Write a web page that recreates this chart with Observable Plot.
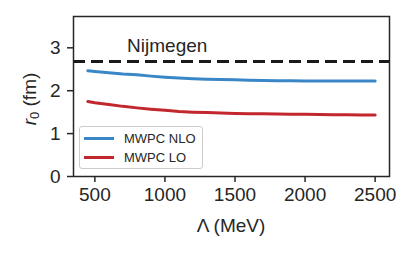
<!DOCTYPE html>
<html><head><meta charset="utf-8">
<script src="https://cdn.jsdelivr.net/npm/d3@7"></script>
<script src="https://cdn.jsdelivr.net/npm/@observablehq/plot@0.6"></script>
<style>
html,body{margin:0;padding:0;background:#fff;}
#wrap{position:relative;width:415px;height:256px;font-family:"Liberation Sans",Arial,sans-serif;color:#262626;overflow:hidden;}
#wrap svg{display:block;}
.lab{position:absolute;white-space:nowrap;font-size:19px;line-height:1;}
.lab sub{font-size:13px;vertical-align:-3px;line-height:0;}
#legend{position:absolute;left:79px;top:126px;width:122px;height:41px;border:1px solid #cccccc;border-radius:3px;background:rgba(255,255,255,0.8);font-size:13px;}
.item{position:absolute;left:4px;height:14px;display:flex;align-items:center;}
.item span.sw{display:inline-block;width:30px;height:3px;margin-right:10px;}
</style></head><body><div id="wrap"></div>
<script>
// data
const lambda = [450,500,600,700,800,900,1000,1100,1200,1300,1400,1500,1600,1700,1800,1900,2000,2100,2200,2300,2400,2500];
const r0NLO  = [2.465,2.45,2.42,2.39,2.37,2.34,2.315,2.295,2.28,2.27,2.26,2.255,2.245,2.24,2.235,2.23,2.228,2.226,2.225,2.225,2.225,2.225];
const r0LO   = [1.75,1.72,1.68,1.635,1.60,1.57,1.545,1.515,1.50,1.49,1.48,1.47,1.465,1.46,1.455,1.45,1.45,1.445,1.44,1.44,1.435,1.435];
const nijmegen = 2.68;
const nijmegenLabel = [{x: 730, y: 3.04, text: "Nijmegen"}];
const seriesNames = ["MWPC NLO", "MWPC LO"];
const seriesColors = ["#3a87c7", "#c1272d"];
const xTicks = [500, 1000, 1500, 2000, 2500];
const yTicks = [0, 1, 2, 3];
const xTitle = "Λ (MeV)";

const rows = [];
lambda.forEach((l, i) => {
  rows.push({lambda: l, r0: r0NLO[i], series: seriesNames[0]});
  rows.push({lambda: l, r0: r0LO[i], series: seriesNames[1]});
});

const plot = Plot.plot({
  width: 415, height: 256,
  marginLeft: 73, marginRight: 26, marginTop: 16, marginBottom: 80,
  style: {fontFamily: "Liberation Sans, Arial, sans-serif", fontSize: "19px", color: "#262626", background: "white", overflow: "visible"},
  x: {domain: [347.5, 2602.5]},
  y: {domain: [0, 3.73]},
  color: {domain: seriesNames, range: seriesColors},
  marks: [
    Plot.ruleY([nijmegen], {stroke: "#1a1a1a", strokeWidth: 3, strokeDasharray: "12,6"}),
    Plot.line(rows, {x: "lambda", y: "r0", z: "series", stroke: "series", strokeWidth: 3, curve: "linear"}),
    Plot.text(nijmegenLabel, {x: "x", y: "y", text: "text", textAnchor: "start", fontSize: 19, fill: "#262626"}),
    Plot.frame({stroke: "#262626", strokeWidth: 1.5}),
    Plot.axisX(xTicks, {tickSize: 6, tickPadding: 5, strokeWidth: 1.5, label: null, fontSize: 19, tickFormat: d3.format("d")}),
    Plot.axisY(yTicks, {tickSize: 6, tickPadding: 7, strokeWidth: 1.5, label: null, fontSize: 19, tickFormat: d3.format("d")})
  ]
});
const wrap = document.getElementById("wrap");
wrap.appendChild(plot);

// axis titles
const xl = document.createElement("div");
xl.className = "lab";
xl.textContent = xTitle;
xl.style.left = "231px"; xl.style.top = "225px"; xl.style.transform = "translate(-50%,-50%)";
wrap.appendChild(xl);

const yl = document.createElement("div");
yl.className = "lab";
yl.innerHTML = "<i>r</i><sub>0</sub> (fm)";
yl.style.left = "29px"; yl.style.top = "99px"; yl.style.transform = "translate(-50%,-50%) rotate(-90deg)";
wrap.appendChild(yl);

// legend
const lg = document.createElement("div");
lg.id = "legend";
seriesNames.forEach((name, i) => {
  const it = document.createElement("div");
  it.className = "item";
  it.style.top = (4 + i * 19) + "px";
  const sw = document.createElement("span");
  sw.className = "sw";
  sw.style.background = seriesColors[i];
  it.appendChild(sw);
  const t = document.createElement("span");
  t.textContent = name;
  it.appendChild(t);
  lg.appendChild(it);
});
wrap.appendChild(lg);
</script>
</body></html>
